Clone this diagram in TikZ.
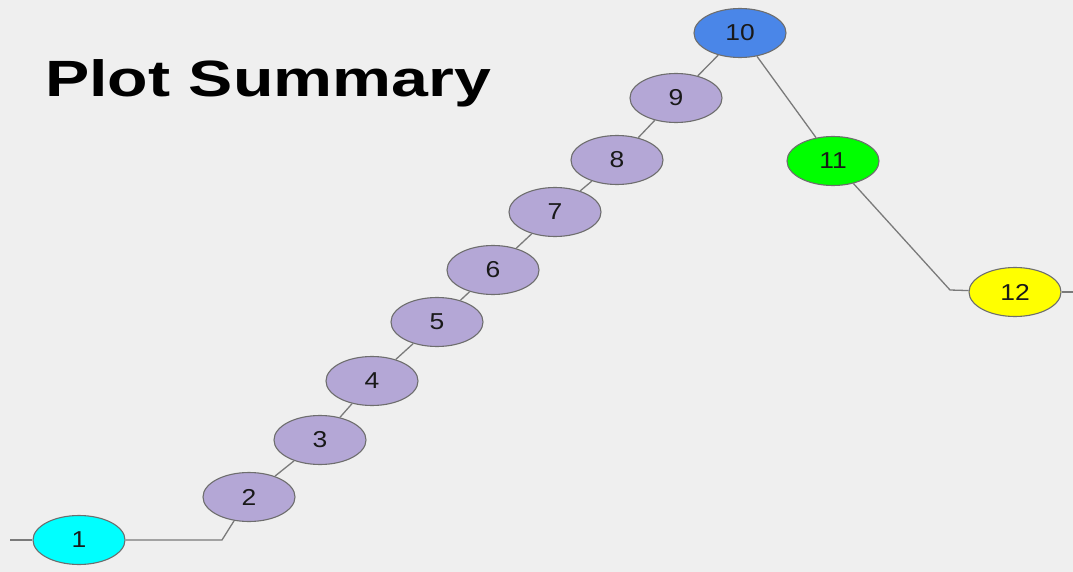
\documentclass[tikz,border=0pt]{standalone}
\usepackage{fontspec}
\setmainfont{Liberation Sans}
\newfontfamily\numfont[FakeStretch=1.15]{Liberation Sans}
\newfontfamily\titlefont[FakeStretch=1.3]{Liberation Sans}
\usetikzlibrary{shapes.geometric}

\definecolor{bggray}{HTML}{EFEFEF}
\definecolor{rimgray}{HTML}{6E6E6E}
\definecolor{wiregray}{HTML}{7A7A7A}
\definecolor{lilac}{HTML}{B4A7D6}
\definecolor{skyblue}{HTML}{4A86E8}
\definecolor{aqua}{HTML}{00FFFF}
\definecolor{lime}{HTML}{00FF00}
\definecolor{lemon}{HTML}{FFFF00}

\tikzset{
  bubble/.style={ellipse, draw=rimgray, line width=1.1pt, fill=lilac,
    minimum width=92pt, minimum height=49pt, inner sep=0pt,
    font=\numfont\fontsize{23}{23}\selectfont, text=black!90},
  wire/.style={draw=wiregray, line width=1.3pt}
}

\begin{document}
\begin{tikzpicture}[x=1pt,y=-1pt]
  \fill[bggray] (0,0) rectangle (1073,572);
  \useasboundingbox (0,0) rectangle (1073,572);

  \node[anchor=base west, inner sep=0pt, font=\titlefont\bfseries\fontsize{51}{51}\selectfont]
    (title) at (45,97) {Plot Summary};

  \node[bubble, fill=aqua]    (n1)  at (79,540)   {1};
  \node[bubble]               (n2)  at (249,497)  {2};
  \node[bubble]               (n3)  at (320,440)  {3};
  \node[bubble]               (n4)  at (372,381)  {4};
  \node[bubble]               (n5)  at (437,322)  {5};
  \node[bubble]               (n6)  at (493,270)  {6};
  \node[bubble]               (n7)  at (555,212)  {7};
  \node[bubble]               (n8)  at (617,160)  {8};
  \node[bubble]               (n9)  at (676,98)   {9};
  \node[bubble, fill=skyblue] (n10) at (740,33)   {10};
  \node[bubble, fill=lime]    (n11) at (833,161)  {11};
  \node[bubble, fill=lemon]   (n12) at (1015,292) {12};

  \coordinate (inlet)  at (10,540);
  \coordinate (kneeA)  at (222,540);
  \coordinate (kneeB)  at (950,290);
  \coordinate (outlet) at (1073,292);

  \draw[wire] (inlet) -- (n1);
  \draw[wire] (n1) -- (kneeA) -- (n2);
  \draw[wire] (n2) -- (n3);
  \draw[wire] (n3) -- (n4);
  \draw[wire] (n4) -- (n5);
  \draw[wire] (n5) -- (n6);
  \draw[wire] (n6) -- (n7);
  \draw[wire] (n7) -- (n8);
  \draw[wire] (n8) -- (n9);
  \draw[wire] (n9) -- (n10);
  \draw[wire] (n10) -- (n11);
  \draw[wire] (n11) -- (kneeB) -- (n12);
  \draw[wire] (n12) -- (outlet);
\end{tikzpicture}
\end{document}
